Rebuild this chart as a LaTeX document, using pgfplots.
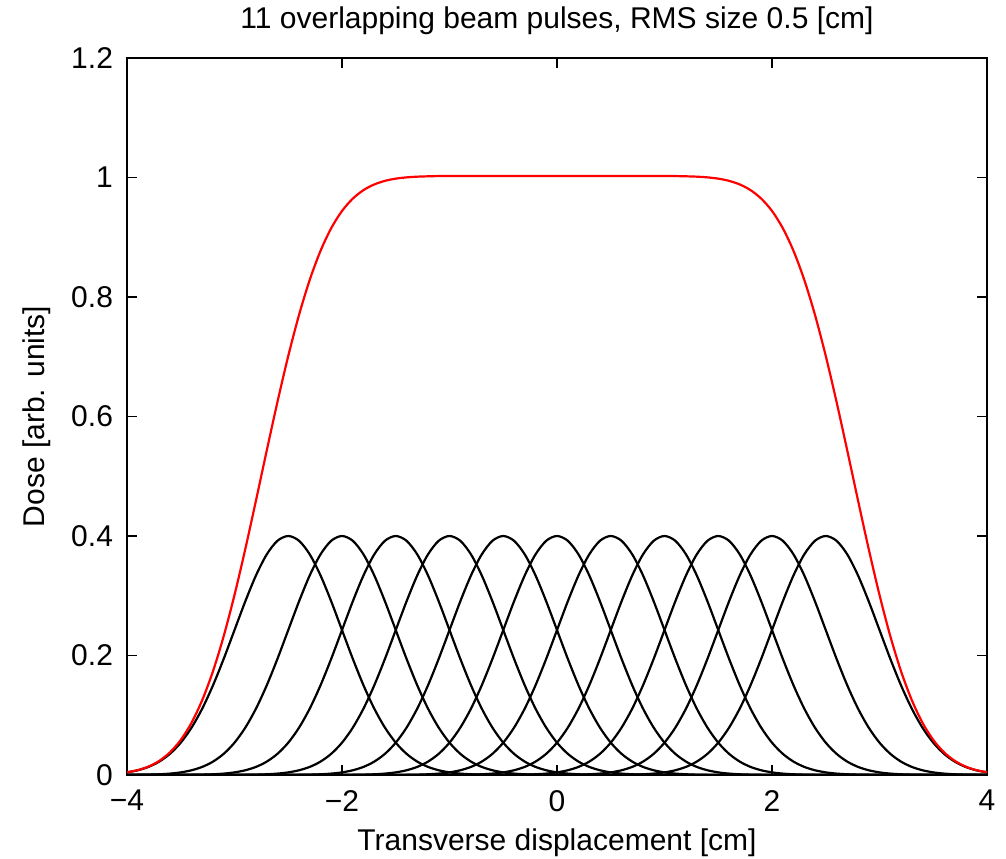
\documentclass[border=0pt]{standalone}
\usepackage{fontspec}
\setmainfont{Liberation Sans}
\usepackage{pgfplots}
\pgfplotsset{compat=1.18}

\begin{document}
\begin{tikzpicture}[font=\fontsize{15}{18}\selectfont]
\begin{axis}[
  name=ax,
  scale only axis,
  width=430pt, height=358.5pt,
  xmin=-4, xmax=4, ymin=0, ymax=1.2,
  xtick={-4,-2,0,2,4},
  xticklabels={−4,−2,0,2,4},
  ytick={0,0.2,0.4,0.6,0.8,1,1.2},
  yticklabels={0,0.2,0.4,0.6,0.8,1,1.2},
  tick pos=both, tick align=inside,
  major tick length=5pt,
  tick style={black, line width=0.6pt},
  axis line style={line width=0.7pt},
  title={11 overlapping beam pulses, RMS size 0.5 [cm]},
  title style={at={(axis description cs:0.5,1)}, anchor=center, yshift=12.5pt},
  xlabel={Transverse displacement [cm]},
  xlabel style={at={(axis description cs:0.5,0)}, anchor=center, yshift=-34pt},
  ylabel={Dose [arb. units]},
  ylabel style={at={(axis description cs:0,0.5)}, anchor=center, yshift=45pt},
  xticklabel style={yshift=-4pt},
  yticklabel style={xshift=-3.5pt},
  every axis plot/.append style={line width=1.1pt, smooth, no marks},
  clip=true,
]
% pulse centred at -2.5
\addplot[black] coordinates {(-4.0,0.00444)(-3.9,0.00794)(-3.8,0.01362)(-3.7,0.02245)(-3.6,0.03557)(-3.5,0.05413)(-3.4,0.07916)(-3.3,0.11121)(-3.2,0.15012)(-3.1,0.19470)(-3.0,0.24261)(-2.9,0.29046)(-2.8,0.33411)(-2.7,0.36925)(-2.6,0.39208)(-2.5,0.4)(-2.4,0.39208)(-2.3,0.36925)(-2.2,0.33411)(-2.1,0.29046)(-2.0,0.24261)(-1.9,0.19470)(-1.8,0.15012)(-1.7,0.11121)(-1.6,0.07916)(-1.5,0.05413)(-1.4,0.03557)(-1.3,0.02245)(-1.2,0.01362)(-1.1,0.00794)(-1.0,0.00444)(-0.9,0.00239)(-0.8,0.00124)(-0.7,0.00061)(-0.6,0.00029)(-0.5,0.00013)(0,0)(4,0)};
% pulse centred at -2.0
\addplot[black] coordinates {(-4.0,0.00013)(-3.9,0.00029)(-3.8,0.00061)(-3.7,0.00124)(-3.6,0.00239)(-3.5,0.00444)(-3.4,0.00794)(-3.3,0.01362)(-3.2,0.02245)(-3.1,0.03557)(-3.0,0.05413)(-2.9,0.07916)(-2.8,0.11121)(-2.7,0.15012)(-2.6,0.19470)(-2.5,0.24261)(-2.4,0.29046)(-2.3,0.33411)(-2.2,0.36925)(-2.1,0.39208)(-2.0,0.4)(-1.9,0.39208)(-1.8,0.36925)(-1.7,0.33411)(-1.6,0.29046)(-1.5,0.24261)(-1.4,0.19470)(-1.3,0.15012)(-1.2,0.11121)(-1.1,0.07916)(-1.0,0.05413)(-0.9,0.03557)(-0.8,0.02245)(-0.7,0.01362)(-0.6,0.00794)(-0.5,0.00444)(-0.4,0.00239)(-0.3,0.00124)(-0.2,0.00061)(-0.1,0.00029)(0.0,0.00013)(0.5,0)(4,0)};
% pulse centred at -1.5
\addplot[black] coordinates {(-4,0)(-3.5,0.00013)(-3.4,0.00029)(-3.3,0.00061)(-3.2,0.00124)(-3.1,0.00239)(-3.0,0.00444)(-2.9,0.00794)(-2.8,0.01362)(-2.7,0.02245)(-2.6,0.03557)(-2.5,0.05413)(-2.4,0.07916)(-2.3,0.11121)(-2.2,0.15012)(-2.1,0.19470)(-2.0,0.24261)(-1.9,0.29046)(-1.8,0.33411)(-1.7,0.36925)(-1.6,0.39208)(-1.5,0.4)(-1.4,0.39208)(-1.3,0.36925)(-1.2,0.33411)(-1.1,0.29046)(-1.0,0.24261)(-0.9,0.19470)(-0.8,0.15012)(-0.7,0.11121)(-0.6,0.07916)(-0.5,0.05413)(-0.4,0.03557)(-0.3,0.02245)(-0.2,0.01362)(-0.1,0.00794)(0.0,0.00444)(0.1,0.00239)(0.2,0.00124)(0.3,0.00061)(0.4,0.00029)(0.5,0.00013)(1,0)(4,0)};
% pulse centred at -1.0
\addplot[black] coordinates {(-4,0)(-3.5,0)(-3.0,0.00013)(-2.9,0.00029)(-2.8,0.00061)(-2.7,0.00124)(-2.6,0.00239)(-2.5,0.00444)(-2.4,0.00794)(-2.3,0.01362)(-2.2,0.02245)(-2.1,0.03557)(-2.0,0.05413)(-1.9,0.07916)(-1.8,0.11121)(-1.7,0.15012)(-1.6,0.19470)(-1.5,0.24261)(-1.4,0.29046)(-1.3,0.33411)(-1.2,0.36925)(-1.1,0.39208)(-1.0,0.4)(-0.9,0.39208)(-0.8,0.36925)(-0.7,0.33411)(-0.6,0.29046)(-0.5,0.24261)(-0.4,0.19470)(-0.3,0.15012)(-0.2,0.11121)(-0.1,0.07916)(0.0,0.05413)(0.1,0.03557)(0.2,0.02245)(0.3,0.01362)(0.4,0.00794)(0.5,0.00444)(0.6,0.00239)(0.7,0.00124)(0.8,0.00061)(0.9,0.00029)(1.0,0.00013)(1.5,0)(4,0)};
% pulse centred at -0.5
\addplot[black] coordinates {(-4,0)(-3.0,0)(-2.5,0.00013)(-2.4,0.00029)(-2.3,0.00061)(-2.2,0.00124)(-2.1,0.00239)(-2.0,0.00444)(-1.9,0.00794)(-1.8,0.01362)(-1.7,0.02245)(-1.6,0.03557)(-1.5,0.05413)(-1.4,0.07916)(-1.3,0.11121)(-1.2,0.15012)(-1.1,0.19470)(-1.0,0.24261)(-0.9,0.29046)(-0.8,0.33411)(-0.7,0.36925)(-0.6,0.39208)(-0.5,0.4)(-0.4,0.39208)(-0.3,0.36925)(-0.2,0.33411)(-0.1,0.29046)(0.0,0.24261)(0.1,0.19470)(0.2,0.15012)(0.3,0.11121)(0.4,0.07916)(0.5,0.05413)(0.6,0.03557)(0.7,0.02245)(0.8,0.01362)(0.9,0.00794)(1.0,0.00444)(1.1,0.00239)(1.2,0.00124)(1.3,0.00061)(1.4,0.00029)(1.5,0.00013)(2.0,0)(4,0)};
% pulse centred at 0
\addplot[black] coordinates {(-4,0)(-2.5,0)(-2.0,0.00013)(-1.9,0.00029)(-1.8,0.00061)(-1.7,0.00124)(-1.6,0.00239)(-1.5,0.00444)(-1.4,0.00794)(-1.3,0.01362)(-1.2,0.02245)(-1.1,0.03557)(-1.0,0.05413)(-0.9,0.07916)(-0.8,0.11121)(-0.7,0.15012)(-0.6,0.19470)(-0.5,0.24261)(-0.4,0.29046)(-0.3,0.33411)(-0.2,0.36925)(-0.1,0.39208)(0.0,0.4)(0.1,0.39208)(0.2,0.36925)(0.3,0.33411)(0.4,0.29046)(0.5,0.24261)(0.6,0.19470)(0.7,0.15012)(0.8,0.11121)(0.9,0.07916)(1.0,0.05413)(1.1,0.03557)(1.2,0.02245)(1.3,0.01362)(1.4,0.00794)(1.5,0.00444)(1.6,0.00239)(1.7,0.00124)(1.8,0.00061)(1.9,0.00029)(2.0,0.00013)(2.5,0)(4,0)};
% pulse centred at 0.5
\addplot[black] coordinates {(-4,0)(-2.0,0)(-1.5,0.00013)(-1.4,0.00029)(-1.3,0.00061)(-1.2,0.00124)(-1.1,0.00239)(-1.0,0.00444)(-0.9,0.00794)(-0.8,0.01362)(-0.7,0.02245)(-0.6,0.03557)(-0.5,0.05413)(-0.4,0.07916)(-0.3,0.11121)(-0.2,0.15012)(-0.1,0.19470)(0.0,0.24261)(0.1,0.29046)(0.2,0.33411)(0.3,0.36925)(0.4,0.39208)(0.5,0.4)(0.6,0.39208)(0.7,0.36925)(0.8,0.33411)(0.9,0.29046)(1.0,0.24261)(1.1,0.19470)(1.2,0.15012)(1.3,0.11121)(1.4,0.07916)(1.5,0.05413)(1.6,0.03557)(1.7,0.02245)(1.8,0.01362)(1.9,0.00794)(2.0,0.00444)(2.1,0.00239)(2.2,0.00124)(2.3,0.00061)(2.4,0.00029)(2.5,0.00013)(3.0,0)(4,0)};
% pulse centred at 1.0
\addplot[black] coordinates {(-4,0)(-1.5,0)(-1.0,0.00013)(-0.9,0.00029)(-0.8,0.00061)(-0.7,0.00124)(-0.6,0.00239)(-0.5,0.00444)(-0.4,0.00794)(-0.3,0.01362)(-0.2,0.02245)(-0.1,0.03557)(0.0,0.05413)(0.1,0.07916)(0.2,0.11121)(0.3,0.15012)(0.4,0.19470)(0.5,0.24261)(0.6,0.29046)(0.7,0.33411)(0.8,0.36925)(0.9,0.39208)(1.0,0.4)(1.1,0.39208)(1.2,0.36925)(1.3,0.33411)(1.4,0.29046)(1.5,0.24261)(1.6,0.19470)(1.7,0.15012)(1.8,0.11121)(1.9,0.07916)(2.0,0.05413)(2.1,0.03557)(2.2,0.02245)(2.3,0.01362)(2.4,0.00794)(2.5,0.00444)(2.6,0.00239)(2.7,0.00124)(2.8,0.00061)(2.9,0.00029)(3.0,0.00013)(3.5,0)(4,0)};
% pulse centred at 1.5
\addplot[black] coordinates {(-4,0)(-1.0,0)(-0.5,0.00013)(-0.4,0.00029)(-0.3,0.00061)(-0.2,0.00124)(-0.1,0.00239)(0.0,0.00444)(0.1,0.00794)(0.2,0.01362)(0.3,0.02245)(0.4,0.03557)(0.5,0.05413)(0.6,0.07916)(0.7,0.11121)(0.8,0.15012)(0.9,0.19470)(1.0,0.24261)(1.1,0.29046)(1.2,0.33411)(1.3,0.36925)(1.4,0.39208)(1.5,0.4)(1.6,0.39208)(1.7,0.36925)(1.8,0.33411)(1.9,0.29046)(2.0,0.24261)(2.1,0.19470)(2.2,0.15012)(2.3,0.11121)(2.4,0.07916)(2.5,0.05413)(2.6,0.03557)(2.7,0.02245)(2.8,0.01362)(2.9,0.00794)(3.0,0.00444)(3.1,0.00239)(3.2,0.00124)(3.3,0.00061)(3.4,0.00029)(3.5,0.00013)(4,0)};
% pulse centred at 2.0
\addplot[black] coordinates {(-4,0)(-0.5,0)(0.0,0.00013)(0.1,0.00029)(0.2,0.00061)(0.3,0.00124)(0.4,0.00239)(0.5,0.00444)(0.6,0.00794)(0.7,0.01362)(0.8,0.02245)(0.9,0.03557)(1.0,0.05413)(1.1,0.07916)(1.2,0.11121)(1.3,0.15012)(1.4,0.19470)(1.5,0.24261)(1.6,0.29046)(1.7,0.33411)(1.8,0.36925)(1.9,0.39208)(2.0,0.4)(2.1,0.39208)(2.2,0.36925)(2.3,0.33411)(2.4,0.29046)(2.5,0.24261)(2.6,0.19470)(2.7,0.15012)(2.8,0.11121)(2.9,0.07916)(3.0,0.05413)(3.1,0.03557)(3.2,0.02245)(3.3,0.01362)(3.4,0.00794)(3.5,0.00444)(3.6,0.00239)(3.7,0.00124)(3.8,0.00061)(3.9,0.00029)(4.0,0.00013)};
% pulse centred at 2.5
\addplot[black] coordinates {(-4,0)(0,0)(0.5,0.00013)(0.6,0.00029)(0.7,0.00061)(0.8,0.00124)(0.9,0.00239)(1.0,0.00444)(1.1,0.00794)(1.2,0.01362)(1.3,0.02245)(1.4,0.03557)(1.5,0.05413)(1.6,0.07916)(1.7,0.11121)(1.8,0.15012)(1.9,0.19470)(2.0,0.24261)(2.1,0.29046)(2.2,0.33411)(2.3,0.36925)(2.4,0.39208)(2.5,0.4)(2.6,0.39208)(2.7,0.36925)(2.8,0.33411)(2.9,0.29046)(3.0,0.24261)(3.1,0.19470)(3.2,0.15012)(3.3,0.11121)(3.4,0.07916)(3.5,0.05413)(3.6,0.03557)(3.7,0.02245)(3.8,0.01362)(3.9,0.00794)(4.0,0.00444)};
% total dose
\addplot[red] coordinates {(-4.0,0.0046)(-3.9,0.0082)(-3.8,0.0142)(-3.7,0.0237)(-3.6,0.0380)(-3.5,0.0587)(-3.4,0.0874)(-3.3,0.1255)(-3.2,0.1738)(-3.1,0.2327)(-3.0,0.3013)(-2.9,0.3779)(-2.8,0.4596)(-2.7,0.5431)(-2.6,0.6248)(-2.5,0.7013)(-2.4,0.7699)(-2.3,0.8288)(-2.2,0.8772)(-2.1,0.9153)(-2.0,0.9440)(-1.9,0.9646)(-1.8,0.9789)(-1.7,0.9884)(-1.6,0.9944)(-1.5,0.9981)(-1.4,1.0002)(-1.3,1.0014)(-1.2,1.0020)(-1.1,1.0024)(-1.0,1.0025)(-0.5,1.0026)(0.0,1.0026)(0.5,1.0026)(1.0,1.0025)(1.1,1.0024)(1.2,1.0020)(1.3,1.0014)(1.4,1.0002)(1.5,0.9981)(1.6,0.9944)(1.7,0.9884)(1.8,0.9789)(1.9,0.9646)(2.0,0.9440)(2.1,0.9153)(2.2,0.8772)(2.3,0.8288)(2.4,0.7699)(2.5,0.7013)(2.6,0.6248)(2.7,0.5431)(2.8,0.4596)(2.9,0.3779)(3.0,0.3013)(3.1,0.2327)(3.2,0.1738)(3.3,0.1255)(3.4,0.0874)(3.5,0.0587)(3.6,0.0380)(3.7,0.0237)(3.8,0.0142)(3.9,0.0082)(4.0,0.0046)};
\end{axis}
\pgfresetboundingbox
\path ([shift={(-63.5pt,-41.5pt)}]ax.south west) rectangle ([shift={(9.5pt,29pt)}]ax.north east);
\end{tikzpicture}
\end{document}
